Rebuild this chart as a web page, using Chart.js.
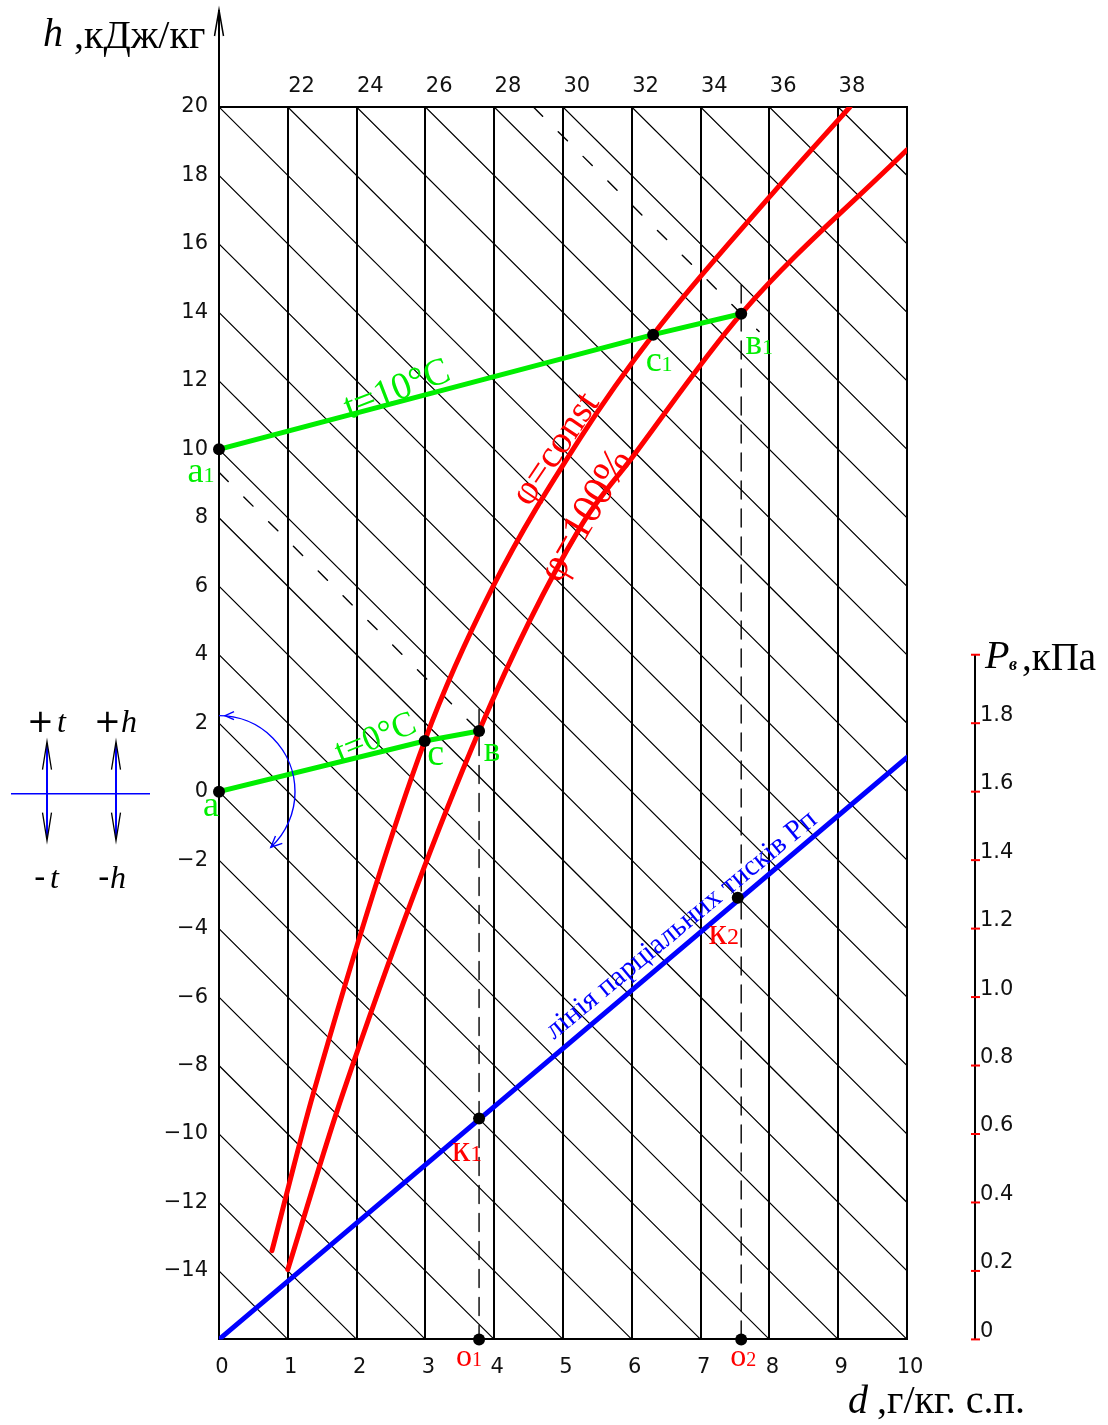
<!DOCTYPE html>
<html>
<head>
<meta charset="utf-8">
<script src="https://cdn.jsdelivr.net/npm/chart.js@4"></script>
<style>
  html, body { margin: 0; padding: 0; background: #fff; }
  #wrap { width: 1108px; height: 1425px; }
</style>
</head>
<body>
<div id="wrap"><canvas id="chart" width="1108" height="1425"></canvas></div>
<script>
// ---- axes ----
const dTicks = [0, 1, 2, 3, 4, 5, 6, 7, 8, 9, 10];
const hTicks = [-16, -14, -12, -10, -8, -6, -4, -2, 0, 2, 4, 6, 8, 10, 12, 14, 16, 18, 20];
const pvTicks = [0, 0.2, 0.4, 0.6, 0.8, 1.0, 1.2, 1.4, 1.6, 1.8, 2.0];
const topLabels = ['22', '24', '26', '28', '30', '32', '34', '36', '38'];
const topLabelPos = [1.2, 2.2, 3.2, 4.2, 5.2, 6.2, 7.2, 8.2, 9.2];

// ---- constant-enthalpy hatch lines (value at d = 0), slope in h per unit d ----
const isenthalpValues = [-14, -12, -10, -8, -6, -4, -2, 0, 2, 4, 6, 8, 10, 12, 14, 16, 18, 20,
                         22, 24, 26, 28, 30, 32, 34, 36, 38];
const isenthalpSlope = 2;

// ---- saturation curves ----
const phiConstD = [0.77, 1.37, 2.99, 3.98, 5.25, 6.31, 7.97, 9.17];
const phiConstH = [-13.41, -8.82, 1.48, 5.98, 10.33, 13.35, 17.30, 20.0];
const phi100D = [1.00, 1.80, 3.78, 5.25, 6.00, 7.59, 10.0];
const phi100H = [-13.96, -8.82, 1.77, 7.72, 9.75, 13.96, 18.75];

// ---- isotherms t = 0 °C and t = 10 °C : points a, c, в and a1, c1, в1 ----
const iso0D = [0, 2.99, 3.78];
const iso0H = [0, 1.48, 1.77];
const iso10D = [0, 6.31, 7.59];
const iso10H = [10, 13.35, 13.96];

// ---- partial pressure line (kPa) ----
const pvLineD = [0, 10];
const pvLineP = [0, 1.70];
const kPointsD = [3.78, 7.54];
const kPointsP = [0.645, 1.29];

// ---- construction guides ----
const guideB0D = [3.78, 3.78];  const guideB0H = [2.4, -16];
const guideB1D = [7.59, 7.59];  const guideB1H = [14.8, -16];
const enthB0D = [0, 3.78];      const enthB0H = [9.33, 1.77];
const enthB1D = [4.57, 7.85];   const enthB1H = [20, 13.44];
const oPointsD = [3.78, 7.59];
const oPointsH = [-16, -16];

const zip = (xs, ys) => xs.map((v, i) => ({ x: v, y: ys[i] }));

function isenthalpEnds(c) {
  const hTop = hTicks[hTicks.length - 1], hBot = hTicks[0], dMax = dTicks[dTicks.length - 1];
  const start = c <= hTop ? { x: 0, y: c } : { x: (c - hTop) / isenthalpSlope, y: hTop };
  const hEnd = c - isenthalpSlope * dMax;
  const end = hEnd >= hBot ? { x: dMax, y: hEnd } : { x: (c - hBot) / isenthalpSlope, y: hBot };
  return [start, end];
}

const RED = '#ff0000', GREEN = '#00ee00', BLUE = '#0000ff';
const SERIF = '"Liberation Serif", "Times New Roman", serif';
const SANS = '"DejaVu Sans", sans-serif';

const datasets = [];
isenthalpValues.forEach(c => datasets.push({
  data: isenthalpEnds(c), borderColor: '#000', borderWidth: 1.2, pointRadius: 0, showLine: true, order: 60
}));
[[guideB0D, guideB0H, [18, 10]], [guideB1D, guideB1H, [18, 10]],
 [enthB0D, enthB0H, [13, 22]], [enthB1D, enthB1H, [13, 22]]].forEach(([xs, ys, dash]) => datasets.push({
  data: zip(xs, ys), borderColor: '#000', borderWidth: 1.4, borderDash: dash, pointRadius: 0, showLine: true, order: 50
}));
const curveStyle = { borderColor: RED, borderWidth: 5, cubicInterpolationMode: 'monotone', pointRadius: 0, showLine: true, order: 20 };
datasets.push({ ...curveStyle, data: zip(phiConstD, phiConstH) });
datasets.push({ ...curveStyle, data: zip(phi100D, phi100H) });
datasets.push({ data: zip(pvLineD, pvLineP), yAxisID: 'y2', borderColor: BLUE, borderWidth: 5, pointRadius: 0, showLine: true, order: 15 });
datasets.push({ data: zip(iso0D, iso0H), borderColor: GREEN, borderWidth: 5, pointRadius: 0, showLine: true, order: 10 });
datasets.push({ data: zip(iso10D, iso10H), borderColor: GREEN, borderWidth: 5, pointRadius: 0, showLine: true, order: 10 });
datasets.push({ data: zip(iso0D, iso0H).concat(zip(iso10D, iso10H)).concat(zip(oPointsD, oPointsH)),
  showLine: false, pointRadius: 6, pointBackgroundColor: '#000', pointBorderWidth: 0, order: 1, clip: false });
datasets.push({ data: zip(kPointsD, kPointsP), yAxisID: 'y2',
  showLine: false, pointRadius: 6, pointBackgroundColor: '#000', pointBorderWidth: 0, order: 1 });

function rotText(ctx, text, x, y, deg, font, color) {
  ctx.save();
  ctx.translate(x, y);
  ctx.rotate(deg * Math.PI / 180);
  ctx.font = font; ctx.fillStyle = color;
  ctx.textAlign = 'center'; ctx.textBaseline = 'middle';
  ctx.fillText(text, 0, 0);
  ctx.restore();
}
function subLabel(ctx, main, sub, cx, cy, size, color) {
  ctx.save();
  ctx.fillStyle = color; ctx.textBaseline = 'alphabetic'; ctx.textAlign = 'left';
  ctx.font = `${size}px ${SERIF}`;
  const w1 = ctx.measureText(main).width;
  ctx.font = `${Math.round(size * 0.62)}px ${SERIF}`;
  const w2 = sub ? ctx.measureText(sub).width : 0;
  const x0 = cx - (w1 + w2) / 2, base = cy + size * 0.23;
  ctx.font = `${size}px ${SERIF}`;
  ctx.fillText(main, x0, base);
  if (sub) { ctx.font = `${Math.round(size * 0.62)}px ${SERIF}`; ctx.fillText(sub, x0 + w1, base); }
  ctx.restore();
}
function chevron(ctx, tx, ty, dirx, diry, len, half) {
  const bx = tx - dirx * len, by = ty - diry * len;
  const nx = -diry, ny = dirx;
  ctx.beginPath();
  ctx.moveTo(bx + nx * half, by + ny * half);
  ctx.lineTo(tx, ty);
  ctx.lineTo(bx - nx * half, by - ny * half);
  ctx.stroke();
}

const decorations = {
  id: 'decorations',
  afterDraw(chart) {
    const { ctx, chartArea: ca } = chart;
    const { x, y, y2 } = chart.scales;
    const P = (d, h) => [x.getPixelForValue(d), y.getPixelForValue(h)];

    ctx.save();
    // vertical h axis extension with arrow
    ctx.strokeStyle = '#000'; ctx.lineWidth = 2;
    ctx.beginPath(); ctx.moveTo(ca.left, ca.top); ctx.lineTo(ca.left, 10); ctx.stroke();
    ctx.lineWidth = 1.5;
    chevron(ctx, ca.left, 10, 0, -1, 26, 4.5);

    // pressure axis
    const ax = ca.right + 68;
    ctx.strokeStyle = '#000'; ctx.lineWidth = 2;
    ctx.beginPath(); ctx.moveTo(ax, y2.getPixelForValue(0)); ctx.lineTo(ax, y2.getPixelForValue(pvTicks[pvTicks.length - 1])); ctx.stroke();
    ctx.strokeStyle = RED; ctx.lineWidth = 2;
    pvTicks.forEach(v => {
      const py = y2.getPixelForValue(v);
      ctx.beginPath(); ctx.moveTo(ax - 4, py); ctx.lineTo(ax + 5, py); ctx.stroke();
    });

    // axis titles
    ctx.fillStyle = '#000'; ctx.textBaseline = 'alphabetic'; ctx.textAlign = 'left';
    ctx.font = `italic 40px ${SERIF}`; ctx.fillText('h', 43, 46);
    ctx.font = `40px ${SERIF}`; ctx.fillText(',кДж/кг', 74, 48);
    ctx.font = `italic 40px ${SERIF}`; ctx.fillText('d', 848, 1413);
    ctx.font = `40px ${SERIF}`; ctx.fillText(',г/кг. с.п.', 877, 1413);
    ctx.font = `italic 40px ${SERIF}`; ctx.fillText('P', 985, 668);
    ctx.font = `bold italic 18px ${SERIF}`; ctx.fillText('в', 1009, 670);
    ctx.font = `39px ${SERIF}`; ctx.fillText(',кПа', 1022, 670);

    // left sign legend
    const y0 = y.getPixelForValue(0);
    ctx.strokeStyle = BLUE; ctx.lineWidth = 1.5;
    ctx.beginPath(); ctx.moveTo(11, y0 + 2); ctx.lineTo(150, y0 + 2); ctx.stroke();
    [47, 116].forEach(lx => {
      ctx.strokeStyle = BLUE; ctx.lineWidth = 2;
      ctx.beginPath(); ctx.moveTo(lx, y0 - 48); ctx.lineTo(lx, y0 + 47); ctx.stroke();
      ctx.strokeStyle = '#000'; ctx.lineWidth = 1.3;
      chevron(ctx, lx, y0 - 50, 0, -1, 28, 4.5);
      chevron(ctx, lx, y0 + 49, 0, 1, 28, 4.5);
    });
    ctx.fillStyle = '#000';
    ctx.font = `32px ${SANS}`; ctx.fillText('+', 27, y0 - 60);
    ctx.font = `italic 32px ${SERIF}`; ctx.fillText('t', 57, y0 - 60);
    ctx.font = `32px ${SANS}`; ctx.fillText('+', 94, y0 - 60);
    ctx.font = `italic 32px ${SERIF}`; ctx.fillText('h', 121, y0 - 60);
    ctx.font = `32px ${SANS}`; ctx.fillText('-', 34, y0 + 96);
    ctx.font = `italic 32px ${SERIF}`; ctx.fillText('t', 50, y0 + 96);
    ctx.font = `32px ${SANS}`; ctx.fillText('-', 98, y0 + 96);
    ctx.font = `italic 32px ${SERIF}`; ctx.fillText('h', 110, y0 + 96);

    // rotation arrow around point a
    const [axp, ayp] = P(0, 0);
    const r = 76, a0 = -Math.PI / 2, a1 = 47 * Math.PI / 180;
    ctx.strokeStyle = BLUE; ctx.lineWidth = 1.4;
    ctx.beginPath(); ctx.arc(axp, ayp, r, a0, a1); ctx.stroke();
    chevron(ctx, axp + 6, ayp - r, -1, 0, 9, 4);
    const ex = axp + r * Math.cos(a1), ey = ayp + r * Math.sin(a1);
    chevron(ctx, ex, ey, -Math.sin(a1), Math.cos(a1), 11, 5);

    // curve and line captions
    let p;
    p = P(2.59, 11.73); rotText(ctx, 't=10°C', p[0], p[1], -21, `38px ${SERIF}`, GREEN);
    p = P(2.28, 1.55);  rotText(ctx, 't=0°C', p[0], p[1], -22, `35px ${SERIF}`, GREEN);
    p = P(4.90, 10.0);  rotText(ctx, 'φ=const', p[0], p[1], -56, `39px ${SERIF}`, RED);
    p = P(5.34, 8.05);  rotText(ctx, 'φ=100%', p[0], p[1], -60, `42px ${SERIF}`, RED);
    const bx = x.getPixelForValue(6.72), by = y2.getPixelForValue(1.21);
    rotText(ctx, 'лінія парціальних тисків Рп', bx, by, -39.5, `29px ${SERIF}`, BLUE);

    // point labels
    p = P(0, 0);         subLabel(ctx, 'a', '', p[0] - 8, p[1] + 16, 36, GREEN);
    p = P(0, 10);        subLabel(ctx, 'a', '1', p[0] - 18, p[1] + 24, 36, GREEN);
    p = P(2.99, 1.48);   subLabel(ctx, 'c', '', p[0] + 11, p[1] + 15, 38, GREEN);
    p = P(3.78, 1.77);   subLabel(ctx, 'в', '', p[0] + 13, p[1] + 22, 35, GREEN);
    p = P(6.31, 13.35);  subLabel(ctx, 'c', '1', p[0] + 6, p[1] + 28, 36, GREEN);
    p = P(7.59, 13.96);  subLabel(ctx, 'в', '1', p[0] + 18, p[1] + 32, 35, GREEN);
    let kx = x.getPixelForValue(kPointsD[0]), ky = y2.getPixelForValue(kPointsP[0]);
    subLabel(ctx, 'к', '1', kx - 12, ky + 34, 38, RED);
    kx = x.getPixelForValue(kPointsD[1]); ky = y2.getPixelForValue(kPointsP[1]);
    subLabel(ctx, 'к', '2', kx - 14, ky + 37, 38, RED);
    p = P(3.78, -16);    subLabel(ctx, 'о', '1', p[0] - 10, p[1] + 19, 32, RED);
    p = P(7.59, -16);    subLabel(ctx, 'о', '2', p[0] + 2, p[1] + 19, 32, RED);
    ctx.restore();
  }
};

new Chart(document.getElementById('chart'), {
  type: 'scatter',
  data: { datasets },
  plugins: [decorations],
  options: {
    responsive: false,
    devicePixelRatio: 1,
    animation: false,
    layout: { padding: 0 },
    plugins: { legend: { display: false }, tooltip: { enabled: false } },
    elements: { line: { borderCapStyle: 'round', borderJoinStyle: 'round' } },
    scales: {
      x: {
        type: 'linear', position: 'bottom', min: 0, max: 10,
        afterBuildTicks: s => { s.ticks = dTicks.map(v => ({ value: v })); },
        afterFit: s => { s.height = 80; },
        grid: { color: '#000', lineWidth: 2, drawTicks: false },
        border: { display: true, color: '#000', width: 2 },
        ticks: { font: { family: SANS, size: 21 }, color: '#111', padding: 16, maxRotation: 0, autoSkip: false, labelOffset: 3 }
      },
      xTop: {
        type: 'linear', position: 'top', min: 0, max: 10,
        afterBuildTicks: s => { s.ticks = topLabelPos.map(v => ({ value: v })); },
        afterFit: s => { s.height = 107; },
        grid: { display: false, drawTicks: false },
        border: { display: true, color: '#000', width: 2 },
        ticks: { callback: (v, i) => topLabels[i], font: { family: SANS, size: 21 }, color: '#111', padding: 8, maxRotation: 0, autoSkip: false }
      },
      y: {
        type: 'linear', position: 'left', min: -16, max: 20,
        afterBuildTicks: s => { s.ticks = hTicks.map(v => ({ value: v })); },
        afterFit: s => { s.width = 219; },
        grid: { display: false, drawTicks: false },
        border: { display: true, color: '#000', width: 2 },
        ticks: { callback: v => v === hTicks[0] ? '' : (v < 0 ? '−' + (-v) : String(v)),
                 font: { family: SANS, size: 21 }, color: '#111', padding: 11, autoSkip: false }
      },
      y2: {
        type: 'linear', position: 'right', min: 0, max: 3.6,
        afterBuildTicks: s => { s.ticks = pvTicks.map(v => ({ value: v })); },
        afterFit: s => { s.width = 201; },
        grid: { display: false, drawTicks: false },
        border: { display: false },
        ticks: { callback: (v, i) => i === pvTicks.length - 1 ? '' : (v === 0 ? '0' : v.toFixed(1)),
                 font: { family: SANS, size: 21 }, color: '#111', padding: 73, labelOffset: -8, autoSkip: false }
      }
    }
  }
});
</script>
</body>
</html>
